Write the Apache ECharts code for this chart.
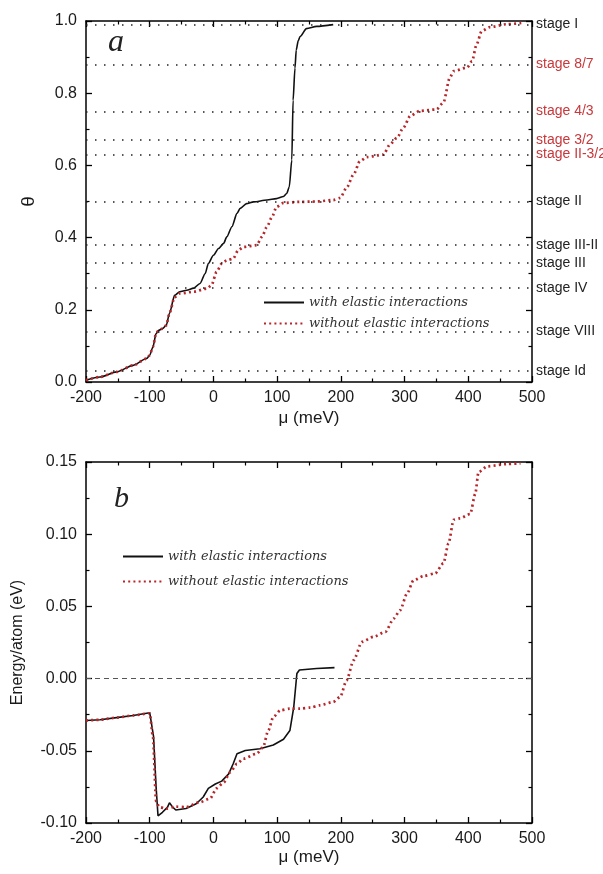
<!DOCTYPE html>
<html>
<head>
<meta charset="utf-8">
<script src="https://cdn.jsdelivr.net/npm/echarts@6/dist/echarts.min.js"></script>
<style>
  html, body { margin: 0; padding: 0; background: #fff; }
  #chart { width: 603px; height: 874px; }
</style>
</head>
<body>
<div id="chart"></div>
<script>
// panel a: coverage theta vs chemical potential mu (meV)
const withMuA = [-200, -178, -152, -126, -105, -100, -95, -90, -86, -80, -74, -69, -61, -53, -42, -31, -21, -13, -8, 0,
  8, 16, 21, 29, 37, 42, 52, 63, 84, 99, 110, 115, 119, 123, 125, 128, 130, 133, 136, 146, 162, 188];
const withThetaA = [0.005, 0.014, 0.028, 0.046, 0.065, 0.074, 0.097, 0.134, 0.143, 0.148, 0.157, 0.19, 0.24, 0.25, 0.254, 0.26, 0.273, 0.30, 0.328, 0.351,
  0.37, 0.384, 0.402, 0.43, 0.467, 0.481, 0.494, 0.499, 0.504, 0.508, 0.514, 0.522, 0.54, 0.615, 0.78, 0.87, 0.92, 0.945, 0.957, 0.979, 0.985, 0.99];

const withoutMuA = [-200, -178, -152, -126, -105, -100, -95, -90, -86, -80, -74, -69, -61, -53, -31, -10, -3, 5, 13, 21,
  31, 39, 47, 68, 76, 84, 92, 99, 110, 136, 162, 188, 199, 209, 220, 230, 241, 267, 277, 288,
  298, 309, 324, 350, 361, 371, 377, 398, 406, 413, 421, 434, 460, 486];
const withoutThetaA = [0.005, 0.014, 0.028, 0.046, 0.065, 0.074, 0.097, 0.134, 0.143, 0.148, 0.157, 0.19, 0.235, 0.245, 0.25, 0.259, 0.268, 0.305, 0.328, 0.337,
  0.342, 0.365, 0.374, 0.379, 0.402, 0.43, 0.457, 0.485, 0.496, 0.499, 0.5, 0.504, 0.51, 0.538, 0.575, 0.612, 0.623, 0.63, 0.658, 0.676,
  0.704, 0.737, 0.751, 0.755, 0.774, 0.843, 0.861, 0.871, 0.889, 0.935, 0.972, 0.983, 0.991, 0.995];

// panel b: energy per atom (eV)
const withMuB = [-200, -178, -152, -126, -100, -98, -94, -90, -87, -80, -72, -69, -64, -59, -43, -27, -16, -8, 3, 13,
  24, 31, 37, 50, 73, 94, 110, 120, 126, 131, 135, 162, 190];
const withEnergyB = [-0.029, -0.0285, -0.027, -0.0255, -0.0236, -0.024, -0.04, -0.075, -0.095, -0.0926, -0.089, -0.086, -0.089, -0.091, -0.09, -0.0867, -0.082, -0.076, -0.073, -0.071,
  -0.066, -0.059, -0.052, -0.0498, -0.0486, -0.046, -0.042, -0.036, -0.02, 0.0035, 0.006, 0.007, 0.0076];

const withoutMuB = [-200, -178, -152, -126, -100, -95, -90, -85, -74, -59, -43, -22, -5, 5, 16, 26, 37, 47, 68, 78,
  86, 94, 105, 120, 136, 152, 167, 188, 199, 209, 220, 233, 251, 270, 283, 293, 304, 314, 330, 348,
  361, 369, 377, 387, 403, 411, 416, 430, 461, 482];
const withoutEnergyB = [-0.029, -0.0285, -0.027, -0.0255, -0.024, -0.04, -0.085, -0.089, -0.09, -0.0887, -0.089, -0.0857, -0.083, -0.076, -0.072, -0.065, -0.059, -0.0555, -0.052, -0.0475,
  -0.036, -0.0266, -0.022, -0.0208, -0.0208, -0.0201, -0.0185, -0.0162, -0.0127, -0.0012, 0.0127, 0.0254, 0.0289, 0.0324, 0.0416, 0.0474, 0.059, 0.068, 0.071, 0.0729,
  0.0798, 0.0937, 0.11, 0.111, 0.114, 0.128, 0.143, 0.147, 0.1486, 0.149];

// staging levels drawn as dotted guides in panel a
const stageNames = ['stage I', 'stage 8/7', 'stage 4/3', 'stage 3/2', 'stage II-3/2', 'stage II', 'stage III-II', 'stage III', 'stage IV', 'stage VIII', 'stage Id'];
const stageTheta = [0.99, 0.875, 0.75, 0.667, 0.625, 0.5, 0.375, 0.333, 0.26, 0.145, 0.033];
const redStages = ['stage 8/7', 'stage 4/3', 'stage 3/2', 'stage II-3/2'];

const seriesNames = ['with elastic interactions', 'without elastic interactions'];

const zip = (xs, ys) => xs.map((x, i) => [x, ys[i]]);

const BLACK = '#111';
const RED = '#b8262a';
const RED_TEXT = '#c8373a';
const SANS = '"Liberation Sans", Arial, sans-serif';
const SERIF = '"DejaVu Serif", serif';

const chart = echarts.init(document.getElementById('chart'));

function xAxisFor(gridIndex, position, showLabels, name, nameGap) {
  return {
    type: 'value', gridIndex, position, min: -200, max: 500, interval: 100,
    name: showLabels ? name : '', nameLocation: 'middle', nameGap,
    nameTextStyle: { fontFamily: SANS, fontSize: 17, color: '#1a1a1a' },
    axisLine: { show: true, onZero: false, lineStyle: { color: '#000', width: 1.5 } },
    axisTick: { show: true, inside: true, length: 6, lineStyle: { color: '#000', width: 1.3 } },
    minorTick: { show: true, splitNumber: 2, length: 3.5, lineStyle: { color: '#000', width: 1.2 } },
    axisLabel: { show: showLabels, fontFamily: SANS, fontSize: 16, color: '#1a1a1a', margin: 8 },
    splitLine: { show: false }
  };
}

function yAxisFor(gridIndex, position, showLabels, min, max, interval, digits, name, nameGap) {
  return {
    type: 'value', gridIndex, position, min, max, interval,
    name: showLabels ? name : '', nameLocation: 'middle', nameGap, nameRotate: 90,
    nameTextStyle: { fontFamily: SANS, fontSize: name === 'θ' ? 19 : 16, color: '#1a1a1a' },
    axisLine: { show: true, onZero: false, lineStyle: { color: '#000', width: 1.5 } },
    axisTick: { show: true, inside: true, length: 6, lineStyle: { color: '#000', width: 1.3 } },
    minorTick: { show: true, splitNumber: 2, length: 3.5, lineStyle: { color: '#000', width: 1.2 } },
    axisLabel: {
      show: showLabels, fontFamily: SANS, fontSize: 16, color: '#1a1a1a', margin: 9,
      formatter: v => v.toFixed(digits)
    },
    splitLine: { show: false }
  };
}

const stageLines = stageNames.map((name, i) => ({
  yAxis: stageTheta[i],
  name,
  label: { color: redStages.includes(name) ? RED_TEXT : '#222' }
}));

const legendText = { fontFamily: SERIF, fontStyle: 'italic', fontSize: 13, color: '#333' };

const option = {
  animation: false,
  backgroundColor: '#fff',
  grid: [
    { left: 86, top: 21, width: 446, height: 361 },
    { left: 86, top: 462, width: 446, height: 361 }
  ],
  xAxis: [
    xAxisFor(0, 'bottom', true, 'μ (meV)', 28),
    xAxisFor(0, 'top', false, '', 0),
    xAxisFor(1, 'bottom', true, 'μ (meV)', 26),
    xAxisFor(1, 'top', false, '', 0)
  ],
  yAxis: [
    yAxisFor(0, 'left', true, 0, 1, 0.2, 1, 'θ', 48),
    yAxisFor(0, 'right', false, 0, 1, 0.2, 1, '', 0),
    yAxisFor(1, 'left', true, -0.1, 0.15, 0.05, 2, 'Energy/atom (eV)', 60),
    yAxisFor(1, 'right', false, -0.1, 0.15, 0.05, 2, '', 0)
  ],
  legend: [
    {
      left: 258, top: 291, orient: 'vertical', itemWidth: 40, itemHeight: 10, itemGap: 8,
      data: seriesNames, textStyle: legendText, selectedMode: false,
      itemStyle: { opacity: 0 }
    },
    {
      left: 117, top: 545, orient: 'vertical', itemWidth: 40, itemHeight: 10, itemGap: 12,
      data: seriesNames, textStyle: legendText, selectedMode: false,
      itemStyle: { opacity: 0 }
    }
  ],
  graphic: [
    { type: 'text', left: 108, top: 27, style: { text: 'a', font: 'italic 32px "Liberation Serif", serif', fill: '#222' } },
    { type: 'text', left: 114, top: 484, style: { text: 'b', font: 'italic 30px "Liberation Serif", serif', fill: '#222' } }
  ],
  series: [
    {
      name: seriesNames[0], type: 'line', xAxisIndex: 0, yAxisIndex: 0,
      data: zip(withMuA, withThetaA), showSymbol: false, symbol: 'none',
      smooth: 0.25, smoothMonotone: 'x',
      lineStyle: { color: BLACK, width: 1.6 }, itemStyle: { color: BLACK },
      markLine: {
        silent: true, symbol: ['none', 'none'],
        lineStyle: { color: '#222', width: 1.7, type: [1.5, 7.5] },
        label: { show: true, position: 'end', distance: 4, formatter: '{b}', fontFamily: SANS, fontSize: 14 },
        data: stageLines
      },
      z: 3
    },
    {
      name: seriesNames[1], type: 'line', xAxisIndex: 0, yAxisIndex: 0,
      data: zip(withoutMuA, withoutThetaA), showSymbol: false, symbol: 'none',
      smooth: 0.25, smoothMonotone: 'x',
      lineStyle: { color: RED, width: 2.7, type: [2, 3.2] }, itemStyle: { color: RED },
      z: 4
    },
    {
      name: seriesNames[0], type: 'line', xAxisIndex: 2, yAxisIndex: 2,
      data: zip(withMuB, withEnergyB), showSymbol: false, symbol: 'none',
      smooth: false,
      lineStyle: { color: BLACK, width: 1.6 }, itemStyle: { color: BLACK },
      markLine: {
        silent: true, symbol: ['none', 'none'],
        lineStyle: { color: '#555', width: 1, type: [5, 4] },
        label: { show: false },
        data: [{ yAxis: 0 }]
      },
      z: 3
    },
    {
      name: seriesNames[1], type: 'line', xAxisIndex: 2, yAxisIndex: 2,
      data: zip(withoutMuB, withoutEnergyB), showSymbol: false, symbol: 'none',
      smooth: 0.25, smoothMonotone: 'x',
      lineStyle: { color: RED, width: 2.7, type: [2, 3.2] }, itemStyle: { color: RED },
      z: 4
    }
  ]
};

chart.setOption(option);
</script>
</body>
</html>
